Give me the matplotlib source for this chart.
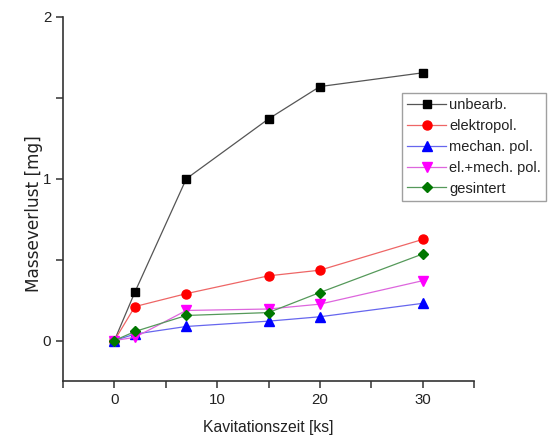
import matplotlib
matplotlib.use("Agg")
import matplotlib.pyplot as plt
from matplotlib.ticker import MultipleLocator

plt.rcParams['font.family'] = ['Liberation Sans', 'DejaVu Sans']

x = [0, 2, 7, 15, 20, 30]
unbearb = [0.0, 0.30, 1.00, 1.37, 1.57, 1.655]
elektropol = [0.0, 0.21, 0.29, 0.40, 0.435, 0.625]
mechan = [0.0, 0.04, 0.087, 0.12, 0.147, 0.23]
el_mech = [0.0, 0.02, 0.186, 0.195, 0.225, 0.37]
gesintert = [0.0, 0.056, 0.155, 0.173, 0.297, 0.535]

labels = ["unbearb.", "elektropol.", "mechan. pol.", "el.+mech. pol.", "gesintert"]
series = [unbearb, elektropol, mechan, el_mech, gesintert]
colors = ["black", "#ff0000", "#0000ff", "#ff00ff", "#007700"]
linecolors = ["#555555", "#ee6666", "#6666ee", "#dd66dd", "#55995a"]
markers = ["s", "o", "^", "v", "D"]
msizes = [5.5, 6.5, 6.5, 6.5, 5.5]

fig = plt.figure(figsize=(5.48, 4.36), dpi=100)
ax = fig.add_axes([63/548, 55/436, (474-63)/548, (381-17)/436])

for ys, lab, c, lc, m, ms in zip(series, labels, colors, linecolors, markers, msizes):
    ax.plot(x, ys, color=lc, lw=0.9, marker=m, markersize=ms,
            markerfacecolor=c, markeredgecolor=c, label=lab)

ax.set_xlim(-5, 35)
ax.set_ylim(-0.25, 2)
ax.xaxis.set_major_locator(MultipleLocator(10))
ax.xaxis.set_minor_locator(MultipleLocator(5))
ax.yaxis.set_major_locator(MultipleLocator(1))
ax.yaxis.set_minor_locator(MultipleLocator(0.5))
ax.spines['top'].set_visible(False)
ax.spines['right'].set_visible(False)
for s in ['left', 'bottom']:
    ax.spines[s].set_color('#333333')
    ax.spines[s].set_linewidth(1.2)
ax.tick_params(which='both', direction='out', color='#333333', width=1.1,
               labelsize=10.8, labelcolor='#222222')
ax.tick_params(which='major', length=5)
ax.tick_params(which='minor', length=5)

ax.set_xlabel("Kavitationszeit [ks]", fontsize=11.3, color='#222222')
ax.xaxis.set_label_coords(0.5, -0.108)
ax.set_ylabel("Masseverlust [mg]", fontsize=12.2, color='#222222',
              family=['DejaVu Sans'])
ax.yaxis.set_label_coords(-0.048, 0.459)

leg = fig.legend(loc='upper left', bbox_to_anchor=(402/548, 1 - 93/436),
                 frameon=True, fancybox=False, fontsize=10.5,
                 handlelength=2.7, handletextpad=0.2, labelspacing=0.47,
                 borderpad=0.35, borderaxespad=0)
leg.get_frame().set_edgecolor('#888888')
leg.get_frame().set_linewidth(1.0)
for t in leg.get_texts():
    t.set_color('#222222')

fig.savefig("out.png", dpi=100)
